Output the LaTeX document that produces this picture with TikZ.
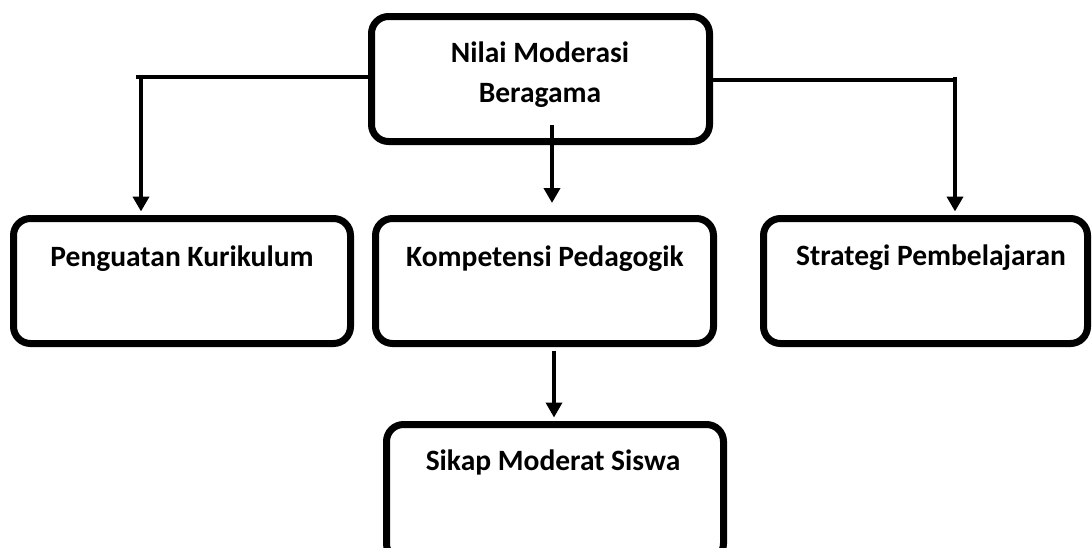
\documentclass[tikz,border=0pt]{standalone}
\usepackage{fontspec}
\setmainfont{Carlito}
\usetikzlibrary{arrows.meta}
\begin{document}
\begin{tikzpicture}[x=1pt,y=-1pt,
  box/.style={draw=black,line width=7pt,rounded corners=17pt,fill=white,inner sep=0pt},
  lbl/.style={anchor=base,font=\fontsize{29.5}{40}\selectfont\bfseries,inner sep=0pt,align=center},
  hline/.style={draw=black,line width=3.5pt},
  arr/.style={draw=black,line width=4.5pt,-{Triangle[width=16pt,length=15pt]}}]
\useasboundingbox (0,0) rectangle (1092,547);
\clip (0,0) rectangle (1092,547);
% boxes
\node[box,minimum width=338pt,minimum height=125pt] (top) at (540.5,79) {};
\node[box,minimum width=337pt,minimum height=125pt] (peng) at (182,281) {};
\node[box,minimum width=338pt,minimum height=125pt] (komp) at (544.5,281) {};
\node[box,minimum width=324pt,minimum height=125pt] (strat) at (925.5,281) {};
\node[box,minimum width=337pt,minimum height=136pt] (sikap) at (555,492.5) {};
% labels
\node[lbl] (tTop) at (540,102) {Nilai Moderasi\\Beragama};
\node[lbl] (tPeng) at (182,266) {Penguatan Kurikulum};
\node[lbl] (tKomp) at (545,266) {Kompetensi Pedagogik};
\node[lbl] (tStrat) at (931,265) {Strategi Pembelajaran};
\node[lbl] (tSikap) at (553,470) {Sikap Moderat Siswa};
% connector points
\coordinate (lc) at (141,77);
\coordinate (rc) at (955,80);
\coordinate (mstart) at (552,125);
\coordinate (mend) at (552,203);
% left branch
\draw[hline] (top.west |- lc) -- ([xshift=-5pt]lc);
\draw[arr] ([yshift=1.75pt]lc) -- ([yshift=3.5pt]peng.north -| lc);
% right branch
\draw[hline] (top.east |- rc) -- ([xshift=1pt]rc);
\draw[arr] ([yshift=3pt]rc) -- ([yshift=3.5pt]strat.north -| rc);
% middle
\draw[arr] (mstart) -- (mend);
\draw[arr,line width=3.5pt] ([xshift=9.5pt,yshift=-3.5pt]komp.south) -- ([xshift=-1pt,yshift=3.5pt]sikap.north);
\end{tikzpicture}
\end{document}
